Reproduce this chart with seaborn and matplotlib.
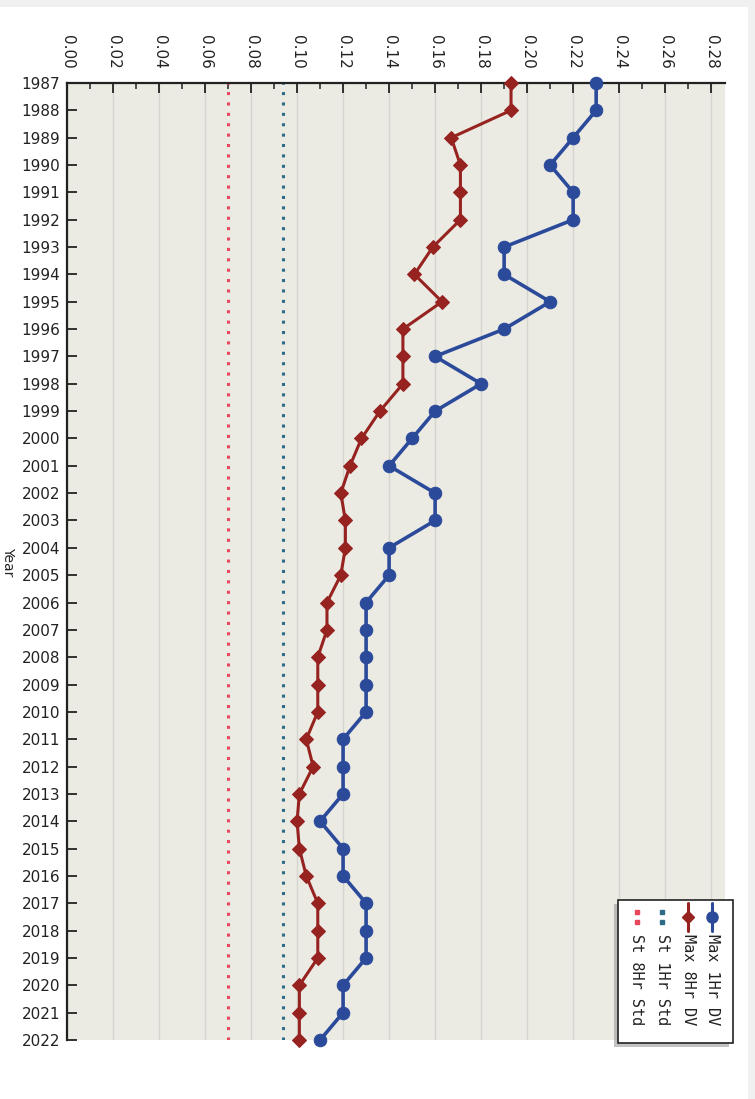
import matplotlib
matplotlib.use("Agg")
import matplotlib.pyplot as plt
import seaborn as sns
import numpy as np
from matplotlib.lines import Line2D
from matplotlib.patches import Rectangle

# values (ppm)
years = list(range(1987, 2023))
max_1hr_dv = [0.23, 0.23, 0.22, 0.21, 0.22, 0.22, 0.19, 0.19, 0.21, 0.19,
              0.16, 0.18, 0.16, 0.15, 0.14, 0.16, 0.16, 0.14, 0.14, 0.13,
              0.13, 0.13, 0.13, 0.13, 0.12, 0.12, 0.12, 0.11, 0.12, 0.12,
              0.13, 0.13, 0.13, 0.12, 0.12, 0.11]
max_8hr_dv = [0.193, 0.193, 0.167, 0.171, 0.171, 0.171, 0.159, 0.151, 0.163, 0.146,
              0.146, 0.146, 0.136, 0.128, 0.123, 0.119, 0.121, 0.121, 0.119, 0.113,
              0.113, 0.109, 0.109, 0.109, 0.104, 0.107, 0.101, 0.100, 0.101, 0.104,
              0.109, 0.109, 0.109, 0.101, 0.101, 0.101]
st_1hr_std = 0.094
st_8hr_std = 0.070
x_ticks = np.round(np.arange(0, 0.281, 0.02), 2)
legend_labels = ["Max 1Hr DV", "Max 8Hr DV", "St 1Hr Std", "St 8Hr Std"]

blue = "#2B4A9A"
red = "#962320"
teal = "#2E6B88"
pink = "#E8465C"

sns.set_style("white")
plt.rcParams['font.family'] = ['DejaVu Sans']

W, H = 755, 1099
fig = plt.figure(figsize=(W / 100, H / 100), dpi=100)
fig.patch.set_facecolor("white")

def fx(px):
    return px / W

def fy(py):
    return 1 - py / H

# light frame at the top and right of the screenshot
fig.add_artist(Rectangle((0, fy(7)), 1, 7 / H, transform=fig.transFigure,
                         facecolor="#F0F0F0", edgecolor="none"))
fig.add_artist(Rectangle((fx(748), 0), 7 / W, 1, transform=fig.transFigure,
                         facecolor="#F0F0F0", edgecolor="none"))

ax = fig.add_axes([fx(67), fy(1040), (725 - 67) / W, (1040 - 83) / H])
ax.set_facecolor("#EBEBE4")

ax.axvline(st_8hr_std, color=pink, lw=2.2, ls=(0, (1, 2.4)), zorder=2)
ax.axvline(st_1hr_std, color=teal, lw=2.2, ls=(0, (1, 2.4)), zorder=2)

sns.lineplot(x=max_1hr_dv, y=years, orient="y", ax=ax, color=blue, lw=2.6,
             marker="o", markersize=9, markeredgecolor=blue, clip_on=False,
             zorder=4, legend=False)
sns.lineplot(x=max_8hr_dv, y=years, orient="y", ax=ax, color=red, lw=2.2,
             marker="D", markersize=7, markeredgecolor=red, clip_on=False,
             zorder=5, legend=False)

ax.set_xlim(0, 0.286)
ax.set_ylim(2022, 1987)
ax.xaxis.tick_top()
ax.set_xticks(x_ticks)
ax.set_xticklabels([f"{v:.2f}" for v in x_ticks], rotation=-90, fontsize=11)
ax.set_xticks(np.arange(0.01, 0.286, 0.02), minor=True)
ax.set_yticks(years)
ax.set_yticklabels([str(y) for y in years], fontsize=11)
ax.tick_params(axis="x", which="major", direction="in", length=7, width=1.3,
               pad=10, top=True, bottom=False, colors="#222222")
ax.tick_params(axis="x", which="minor", direction="in", length=4, width=1.1,
               top=True, bottom=False, colors="#222222")
ax.tick_params(axis="y", direction="in", length=7, width=1.3, pad=5,
               left=True, colors="#222222")
ax.set_xlabel("")
ax.set_ylabel("Year", rotation=-90, fontsize=10, va="center", ha="center")
ax.yaxis.set_label_coords(-0.09, 0.5)

for side in ["right", "bottom"]:
    ax.spines[side].set_visible(False)
for side in ["top", "left"]:
    ax.spines[side].set_color("#222222")
    ax.spines[side].set_linewidth(1.6)

ax.xaxis.grid(True, which="major", color="#D5D5CF", lw=1)
ax.set_axisbelow(True)

# legend, drawn rotated like the rest of the picture
fig.add_artist(Rectangle((fx(614), fy(1047)), (733 - 618) / W, (1043 - 900) / H,
                         transform=fig.transFigure, facecolor="#9A9A9A",
                         edgecolor="none", alpha=0.6, zorder=8))
fig.add_artist(Rectangle((fx(618), fy(1043)), (733 - 618) / W, (1043 - 900) / H,
                         transform=fig.transFigure, facecolor="white",
                         edgecolor="#222222", lw=1.2, zorder=9))
cols = [712, 688, 662, 637]
styles = [(blue, "o", 8), (red, "D", 6.5), (teal, None, 0), (pink, None, 0)]
for px, (c, m, ms), label in zip(cols, styles, legend_labels):
    if m:
        fig.add_artist(Line2D([fx(px), fx(px)], [fy(903), fy(931)],
                              transform=fig.transFigure, color=c, lw=2.2, zorder=10))
        fig.add_artist(Line2D([fx(px)], [fy(917)], transform=fig.transFigure,
                              color=c, marker=m, markersize=ms, zorder=11))
    else:
        fig.add_artist(Line2D([fx(px), fx(px)], [fy(912), fy(922)],
                              transform=fig.transFigure, color=c, lw=0,
                              marker="s", markersize=2.6, zorder=10))
    fig.text(fx(px), fy(934), label, rotation=-90, ha="center", va="top",
             fontsize=11, family="DejaVu Sans Mono", color="#222222", zorder=12)

fig.savefig("out.png", dpi=100)
